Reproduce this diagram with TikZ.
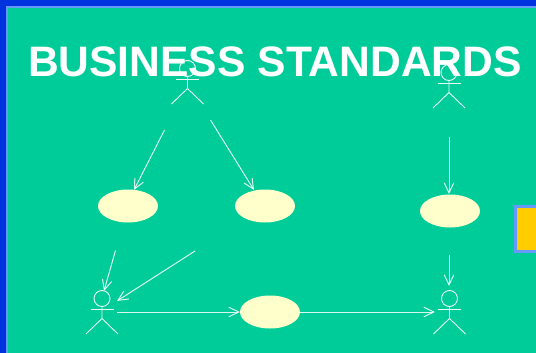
\documentclass[tikz,border=0pt]{standalone}
\usepackage{fontspec}
\setmainfont{Liberation Sans}
\usetikzlibrary{arrows.meta,shapes.geometric}
\definecolor{bgreen}{HTML}{00CC99}
\definecolor{dblue}{HTML}{0033DD}
\definecolor{lblue}{HTML}{6699FF}
\definecolor{ucase}{HTML}{FFFFCC}
\definecolor{gold}{HTML}{FFCC00}
\tikzset{
  usecase/.style={draw=none,fill=ucase,ellipse,minimum width=60pt,minimum height=33pt,inner sep=0pt},
  link/.style={draw=white,line width=1pt,opacity=0.85,-{Straight Barb[length=10pt,width=9.5pt,line width=1pt]}},
  stick/.style={draw=white,line width=0.9pt,opacity=0.9},
  pics/actor/.style={code={
    \draw[stick] (0,-10.5) circle[radius=8pt];
    \draw[stick] (-11.5,0) -- (11.5,0);
    \draw[stick] (0,-3) -- (0,9.5) (-16,25) -- (0,9.5) -- (16,25);
  }}
}
\begin{document}
\begin{tikzpicture}[x=1pt,y=-1pt]
\useasboundingbox (0,0) rectangle (536,353);
\fill[dblue] (0,0) rectangle (536,353);
\fill[lblue] (6,6) rectangle (536,353);
\fill[bgreen] (8,8) rectangle (536,353);
\node[anchor=base,text=white,font=\bfseries\fontsize{42.6}{42.6}\selectfont,inner sep=0pt] (title) at (275,77) {BUSINESS STANDARDS};
\node[draw=lblue,line width=3pt,fill=gold,minimum width=30pt,minimum height=45pt,inner sep=0pt,anchor=west] (box) at (514,229) {};
\pic at (187.5,79) {actor};
\pic at (449,83) {actor};
\pic at (102,309) {actor};
\pic at (449.5,309) {actor};
\node[usecase] (uca) at (128,206) {};
\node[usecase] (ucb) at (265,206) {};
\node[usecase] (ucc) at (450,211) {};
\node[usecase] (ucd) at (270,312) {};
\coordinate (a1) at (164.5,130);
\coordinate (a2) at (210.5,120);
\coordinate (a3) at (449,137);
\coordinate (a4) at (115.5,250.5);
\coordinate (a5) at (195,251);
\coordinate (a6) at (117,312);
\coordinate (a7) at (449,255);
\coordinate (t1) at (134,190);
\coordinate (t2) at (254,190);
\coordinate (t3) at (449,194);
\coordinate (t4) at (104,291);
\coordinate (t5) at (117,301);
\coordinate (t6) at (240,312);
\coordinate (t7) at (449,286);
\coordinate (t8) at (435,312);
\draw[link] (a1) -- (t1);
\draw[link] (a2) -- (t2);
\draw[link] (a3) -- (t3);
\draw[link] (a4) -- (t4);
\draw[link] (a5) -- (t5);
\draw[link] (a6) -- (t6);
\draw[link] (a7) -- (t7);
\draw[link] (ucd.east) -- (t8);
\end{tikzpicture}
\end{document}
